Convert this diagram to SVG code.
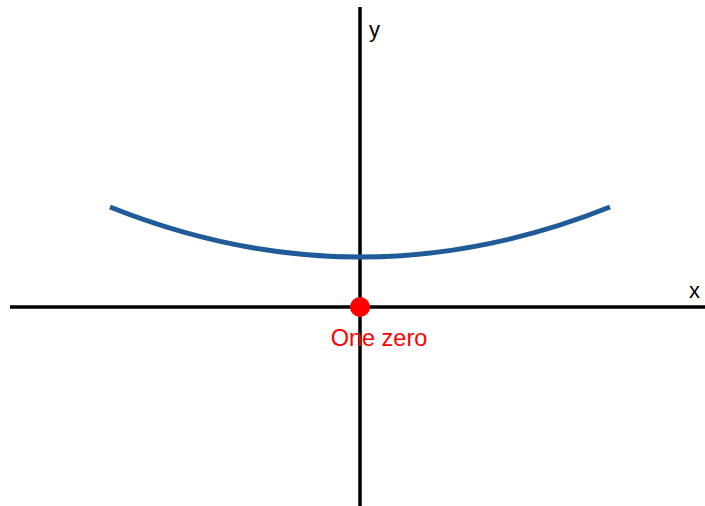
<svg xmlns="http://www.w3.org/2000/svg" width="705" height="506" viewBox="0 0 705 506">
<style>
.axis{stroke:#000;stroke-width:3.5;fill:none}
.lbl{font-family:"Liberation Sans",Arial,sans-serif;font-size:22px;fill:#000}
.curve{stroke:#1f5b98;stroke-width:5;fill:none}
</style>
<rect width="705" height="506" fill="#fff"/>
<g id="connectors">
<line class="axis" x1="10" y1="307" x2="705" y2="307"/>
<line class="axis" x1="360" y1="7" x2="360" y2="506"/>
<path class="curve" d="M110,207 Q360,307 610,207"/>
</g>
<g id="xlabel"><text class="lbl" x="689" y="298">x</text></g>
<g id="ylabel"><text class="lbl" x="369" y="37">y</text></g>
<g id="zero">
<circle cx="360" cy="307" r="10" fill="#ff0000"/>
<text class="lbl" x="379" y="346" text-anchor="middle" style="fill:#ff0000;font-size:23.5px">One zero</text>
</g>
</svg>
